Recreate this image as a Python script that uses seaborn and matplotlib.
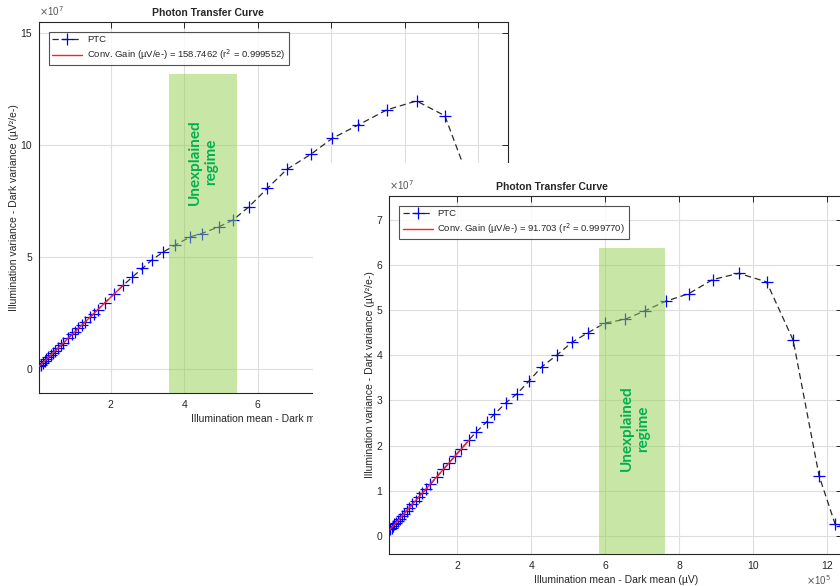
import matplotlib
matplotlib.use("Agg")
import matplotlib.pyplot as plt
import matplotlib.patches as mpatches
import numpy as np
import pandas as pd
import seaborn as sns

# ---- data (x in 1e5 uV, y in 1e7 uV^2/e-) ----
# panel 1 (back)
mean_1 = [0.05, 0.10, 0.15, 0.20, 0.25, 0.30, 0.36, 0.42, 0.49, 0.57, 0.64, 0.71,
          0.84, 0.95, 1.03, 1.12, 1.21, 1.30, 1.43, 1.53, 1.64, 1.84, 2.09, 2.34,
          2.59, 2.86, 3.11, 3.43, 3.75, 4.16, 4.47, 4.94, 5.32, 5.76, 6.26, 6.79,
          7.44, 8.03, 8.74, 9.51, 10.32, 11.09, 11.80, 12.35]
var_1 = [0.10, 0.18, 0.26, 0.34, 0.42, 0.50, 0.59, 0.69, 0.80, 0.92, 1.04, 1.15,
         1.36, 1.53, 1.66, 1.80, 1.94, 2.09, 2.29, 2.45, 2.63, 2.94, 3.34, 3.73,
         4.10, 4.48, 4.85, 5.22, 5.52, 5.89, 6.04, 6.34, 6.64, 7.24, 8.06, 8.91,
         9.58, 10.30, 10.90, 11.57, 11.97, 11.31, 8.20, 2.50]
fit_end_1 = 2.34
gain_label_1 = "Conv. Gain (µV/e-) = 158.7462 (r$^2$ = 0.999552)"
span_1 = (3.59, 5.44, 13.18)

# panel 2 (front)
mean_2 = [0.18, 0.22, 0.26, 0.30, 0.34, 0.39, 0.44, 0.50, 0.56, 0.63, 0.70, 0.78,
          0.87, 0.96, 1.05, 1.15, 1.27, 1.45, 1.62, 1.78, 1.93, 2.10, 2.32, 2.51,
          2.79, 3.00, 3.32, 3.62, 3.94, 4.28, 4.69, 5.11, 5.52, 5.99, 6.53, 7.07,
          7.63, 8.26, 8.90, 9.61, 10.36, 11.08, 11.78, 12.21, 12.40]
var_2 = [0.15, 0.18, 0.22, 0.26, 0.29, 0.34, 0.38, 0.44, 0.49, 0.56, 0.62, 0.70,
         0.78, 0.86, 0.94, 1.03, 1.14, 1.31, 1.47, 1.62, 1.76, 1.92, 2.13, 2.30,
         2.52, 2.69, 2.95, 3.15, 3.43, 3.74, 4.00, 4.29, 4.49, 4.71, 4.79, 4.98,
         5.19, 5.36, 5.67, 5.81, 5.62, 4.33, 1.33, 0.27, 0.22]
fit_end_2 = 2.32
gain_label_2 = "Conv. Gain (µV/e-) = 91.703 (r$^2$ = 0.999770)"
span_2 = (5.84, 7.61, 6.37)

sns.set_theme(style="white")
plt.rcParams['font.family'] = ['Liberation Sans', 'DejaVu Sans']

W, H = 840, 586
fig = plt.figure(figsize=(W / 100, H / 100), dpi=100)
fig.patch.set_facecolor("white")

TXT = "#262626"


def px_axes(left, top, right, bottom):
    return fig.add_axes([left / W, 1 - bottom / H, (right - left) / W, (bottom - top) / H])


def draw_ptc(ax, xs, ys, fit_end, gain_label, span, xlim, ylim, yticks, text_xy):
    df = pd.DataFrame({"mean": xs, "var": ys})
    sns.lineplot(data=df, x="mean", y="var", ax=ax, sort=False, estimator=None,
                 color="#2a2a2a", lw=0.9, linestyle=(0, (5, 3)),
                 marker="+", markersize=8, markeredgecolor="#0000ff",
                 markeredgewidth=0.9, label="PTC", zorder=3)
    fit = df[df["mean"] <= fit_end]
    k, b = np.polyfit(fit["mean"], fit["var"], 1)
    fx = np.array([fit["mean"].min(), fit["mean"].max()])
    sns.lineplot(x=fx, y=k * fx + b, ax=ax, color="#ff2020", lw=1.0,
                 label=gain_label, zorder=4)

    ax.axvspan(span[0], span[1], ymin=0,
               ymax=(span[2] - ylim[0]) / (ylim[1] - ylim[0]),
               color="#92d050", alpha=0.5, lw=0, zorder=5)
    ax.text(text_xy[0], text_xy[1], "Unexplained\nregime", rotation=90,
            ha="center", va="center", color="#00b050", fontsize=11,
            fontweight="bold", family=["Lato", "DejaVu Sans"], zorder=6,
            linespacing=1.25)

    ax.set_xlim(*xlim)
    ax.set_ylim(*ylim)
    ax.set_xticks([2, 4, 6, 8, 10, 12])
    ax.set_yticks(yticks)
    ax.grid(True, color="#dedede", lw=0.8)
    ax.tick_params(direction="in", length=4, width=0.7, colors=TXT,
                   labelsize=7.5, top=True, right=True, pad=5)
    for s in ax.spines.values():
        s.set_color("#262626")
        s.set_linewidth(0.8)
    ax.set_xlabel("Illumination mean - Dark mean (µV)", fontsize=7.5, color=TXT, labelpad=3)
    ax.set_ylabel("Illumination variance - Dark variance (µV²/e-)", fontsize=7.5,
                  color=TXT, labelpad=1)
    ax.set_title("Photon Transfer Curve", fontsize=7.5, fontweight="bold",
                 x=0.36, pad=4)
    ax.text(0.0, 1.012, r"$\times$10$^7$", transform=ax.transAxes, fontsize=7,
            color="#555555", ha="left", va="bottom")
    leg = ax.legend(loc="upper left", fontsize=6.8, handlelength=3.2,
                    borderaxespad=1.05, frameon=True, fancybox=False,
                    borderpad=0.35, labelspacing=0.35, handletextpad=0.5)
    leg.get_frame().set_edgecolor("#262626")
    leg.get_frame().set_linewidth(0.8)
    leg.set_zorder(10)
    return ax


# back panel
ax1 = px_axes(39, 22, 508, 393)
ax1.set_zorder(0)
draw_ptc(ax1, mean_1, var_1, fit_end_1, gain_label_1, span_1,
         (0.046, 12.81), (-1.09, 15.5), [0, 5, 10, 15], (4.51, 9.25))

# white sheet of the second screenshot
cover = mpatches.Rectangle((313 / W, 0), 1 - 313 / W, (H - 163) / H,
                           transform=fig.transFigure, facecolor="white",
                           edgecolor="none", zorder=1)
fig.add_artist(cover)

# front panel
ax2 = px_axes(389.3, 196, 842, 554)
ax2.set_zorder(2)
draw_ptc(ax2, mean_2, var_2, fit_end_2, gain_label_2, span_2,
         (0.16, 12.4), (-0.4, 7.52), list(range(8)), (6.8, 2.38))
fig.text(806 / W, 1 - 580 / H, r"$\times$10$^5$", fontsize=7, color="#555555",
         ha="left", va="center", zorder=3)

fig.savefig("out.png", dpi=100)
